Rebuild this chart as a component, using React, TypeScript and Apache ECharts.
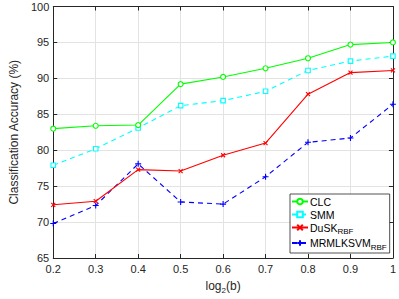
import React, { useEffect, useRef } from "react";
import * as echarts from "echarts";

const categories = ["0.2", "0.3", "0.4", "0.5", "0.6", "0.7", "0.8", "0.9", "1"];
const clc = [83.0, 83.4, 83.5, 89.2, 90.2, 91.4, 92.8, 94.7, 95.0];
const smm = [77.9, 80.2, 83.1, 86.2, 86.9, 88.2, 91.1, 92.4, 93.1];
const dusk = [72.4, 72.9, 77.3, 77.1, 79.3, 81.0, 87.8, 90.8, 91.1];
const mrml = [69.8, 72.3, 78.1, 72.8, 72.5, 76.3, 81.1, 81.7, 86.4];
const seriesNames = ["CLC", "SMM", "DuSK{sub|RBF}", "MRMLKSVM{sub|RBF}"];

const FONT = "'Liberation Sans', Arial, Helvetica, sans-serif";
const AX = "#262626";

export default function App() {
  const ref = useRef<HTMLDivElement>(null);
  useEffect(() => {
    if (!ref.current) return;
    const chart = echarts.init(ref.current, null, { renderer: "svg" });
    const tickStyle = { show: true, inside: true, length: 4, lineStyle: { color: AX, width: 1 } };
    const lineAxis = { show: true, lineStyle: { color: AX, width: 1 } };
    const crossSym = "path://M0,0L10,10M10,0L0,10";
    const plusSym = "path://M5,0L5,10M0,5L10,5";
    chart.setOption({
      animation: false,
      backgroundColor: "#ffffff",
      textStyle: { fontFamily: FONT },
      grid: { left: 40, right: 4, top: 6.5, bottom: 38, containLabel: false },
      legend: {
        left: 290,
        top: 194,
        orient: "vertical",
        backgroundColor: "#ffffff",
        borderColor: "#262626",
        borderWidth: 0.8,
        borderRadius: 0,
        padding: [2, 3, 2, 1],
        itemGap: 2,
        itemWidth: 16,
        itemHeight: 7,
        data: seriesNames,
        formatter: (n: string) => n,
        textStyle: {
          fontFamily: FONT,
          fontSize: 10.5,
          color: "#000",
          padding: [0, 0, 0, -3],
          rich: {
            sub: { fontSize: 8, verticalAlign: "bottom", padding: [8, 0, 0, 0], fontFamily: FONT, color: "#000" },
          },
        },
      },
      xAxis: [
        {
          type: "category",
          data: categories,
          boundaryGap: false,
          name: "log{sub|2}(b)",
          nameLocation: "middle",
          nameGap: 20,
          nameTextStyle: {
            fontSize: 12,
            color: AX,
            fontFamily: FONT,
            rich: { sub: { fontSize: 8, verticalAlign: "bottom", padding: [8, 0, 0, 0], color: AX, fontFamily: FONT } },
          },
          axisLine: lineAxis,
          axisTick: { ...tickStyle, alignWithLabel: true },
          axisLabel: { fontSize: 11, color: AX, margin: 5, fontFamily: FONT },
          splitLine: { show: true, lineStyle: { color: "#e3e3e3", width: 1 } },
        },
        {
          type: "category",
          data: categories,
          boundaryGap: false,
          position: "top",
          axisLine: lineAxis,
          axisTick: { ...tickStyle, alignWithLabel: true },
          axisLabel: { show: false },
          splitLine: { show: false },
        },
      ],
      yAxis: [
        {
          type: "value",
          min: 65,
          max: 100,
          interval: 5,
          name: "Classification Accuracy (%)",
          nameLocation: "middle",
          nameGap: 23,
          nameTextStyle: { fontSize: 12, color: AX, fontFamily: FONT },
          axisLine: lineAxis,
          axisTick: tickStyle,
          axisLabel: { fontSize: 11, color: AX, margin: 4, fontFamily: FONT },
          splitLine: { show: true, lineStyle: { color: "#e3e3e3", width: 1 } },
        },
        {
          type: "value",
          min: 65,
          max: 100,
          interval: 5,
          position: "right",
          axisLine: lineAxis,
          axisTick: tickStyle,
          axisLabel: { show: false },
          splitLine: { show: false },
        },
      ],
      series: [
        {
          name: seriesNames[0],
          type: "line",
          data: clc,
          symbol: "circle",
          symbolSize: 5,
          lineStyle: { color: "#00ff00", width: 1.1, type: "solid" },
          itemStyle: { color: "#ffffff", borderColor: "#00ff00", borderWidth: 1.1 },
          z: 5,
        },
        {
          name: seriesNames[1],
          type: "line",
          data: smm,
          symbol: "rect",
          symbolSize: 4.5,
          lineStyle: { color: "#00ffff", width: 1.1, type: [5, 4] },
          itemStyle: { color: "#ffffff", borderColor: "#00ffff", borderWidth: 1.1 },
          z: 4,
        },
        {
          name: seriesNames[2],
          type: "line",
          data: dusk,
          symbol: crossSym,
          symbolSize: 4,
          lineStyle: { color: "#ff0000", width: 1.1, type: "solid" },
          itemStyle: { color: "#ff0000", borderColor: "#ff0000", borderWidth: 1.1 },
          z: 3,
        },
        {
          name: seriesNames[3],
          type: "line",
          data: mrml,
          symbol: plusSym,
          symbolSize: 6,
          lineStyle: { color: "#0000ff", width: 1.1, type: [5, 4] },
          itemStyle: { color: "#0000ff", borderColor: "#0000ff", borderWidth: 1.1 },
          z: 2,
        },
      ],
    });
    return () => chart.dispose();
  }, []);
  return (
    <div
      ref={ref}
      style={{ position: "absolute", left: 0, top: 0, width: 399, height: 299 }}
    />
  );
}
